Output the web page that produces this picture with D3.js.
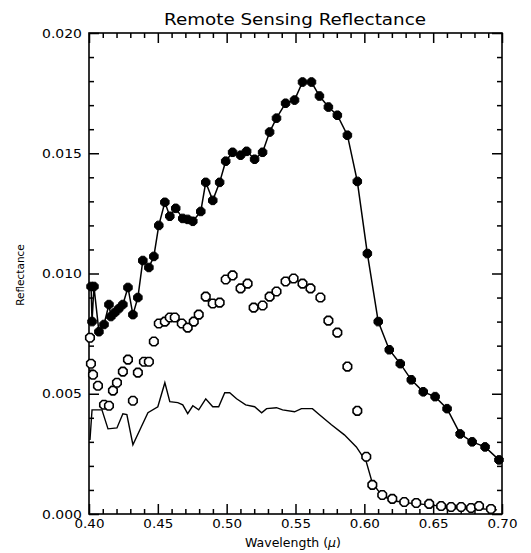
<!DOCTYPE html>
<html>
<head>
<meta charset="utf-8">
<script src="https://cdn.jsdelivr.net/npm/d3@7"></script>
<style>
  html, body { margin: 0; padding: 0; background: #fff; }
  svg { display: block; }
  text { font-family: "DejaVu Sans", "Liberation Sans", sans-serif; fill: #000; }
</style>
</head>
<body>
<svg id="chart" width="531" height="553"></svg>
<script>
// ---- data ----
const titleText = "Remote Sensing Reflectance";
const xTitle = "Wavelength";
const yTitle = "Reflectance";
const xMajorTicks = [0.40, 0.45, 0.50, 0.55, 0.60, 0.65, 0.70];
const yMajorTicks = [0.000, 0.005, 0.010, 0.015, 0.020];

// filled markers + connecting line
const filledWl = [0.4015,0.4022,0.4036,0.4072,0.4109,0.4145,0.4159,0.4188,0.4217,0.4246,0.4283,0.4319,0.4355,0.4391,0.4435,0.4471,0.4507,0.4551,0.4587,0.4630,0.4681,0.4717,0.4754,0.4812,0.4848,0.4899,0.4949,0.4993,0.5043,0.5101,0.5145,0.5203,0.5261,0.5312,0.5362,0.5428,0.5493,0.5551,0.5616,0.5674,0.5739,0.5804,0.5877,0.5949,0.6022,0.6101,0.6181,0.6261,0.6341,0.6428,0.6514,0.6601,0.6696,0.6783,0.6877,0.6978];
const filledRrs = [0.00946,0.00800,0.00946,0.00758,0.00788,0.00871,0.00821,0.00838,0.00854,0.00871,0.00942,0.00829,0.00900,0.01054,0.01025,0.01071,0.01200,0.01296,0.01238,0.01271,0.01229,0.01225,0.01217,0.01258,0.01379,0.01304,0.01379,0.01467,0.01504,0.01492,0.01508,0.01475,0.01504,0.01588,0.01646,0.01708,0.01721,0.01796,0.01796,0.01738,0.01692,0.01658,0.01575,0.01383,0.01083,0.00800,0.00683,0.00625,0.00558,0.00508,0.00488,0.00438,0.00333,0.00300,0.00279,0.00225];

// open markers, no line
const openWl = [0.4007,0.4014,0.4029,0.4065,0.4109,0.4145,0.4174,0.4203,0.4246,0.4283,0.4319,0.4355,0.4399,0.4435,0.4471,0.4507,0.4551,0.4587,0.4623,0.4674,0.4717,0.4761,0.4797,0.4848,0.4899,0.4949,0.4993,0.5043,0.5101,0.5152,0.5196,0.5261,0.5312,0.5362,0.5428,0.5486,0.5551,0.5609,0.5681,0.5739,0.5804,0.5877,0.5949,0.6014,0.6058,0.6130,0.6203,0.6290,0.6377,0.6471,0.6558,0.6630,0.6703,0.6775,0.6833,0.6920];
const openRrs = [0.00733,0.00625,0.00579,0.00533,0.00454,0.00450,0.00513,0.00546,0.00592,0.00642,0.00471,0.00588,0.00633,0.00633,0.00717,0.00792,0.00800,0.00817,0.00817,0.00792,0.00775,0.00800,0.00829,0.00904,0.00875,0.00879,0.00975,0.00992,0.00938,0.00958,0.00858,0.00867,0.00904,0.00925,0.00967,0.00979,0.00958,0.00938,0.00900,0.00804,0.00754,0.00613,0.00429,0.00238,0.00121,0.00079,0.00063,0.00050,0.00046,0.00042,0.00033,0.00029,0.00029,0.00025,0.00033,0.00021];

// plain line, no markers
const lineWl = [0.4007,0.4022,0.4094,0.4138,0.4203,0.4246,0.4275,0.4319,0.4370,0.4428,0.4500,0.4551,0.4587,0.4645,0.4681,0.4717,0.4754,0.4797,0.4848,0.4899,0.4942,0.4986,0.5022,0.5072,0.5138,0.5203,0.5254,0.5290,0.5362,0.5406,0.5493,0.5543,0.5623,0.5674,0.5761,0.5855,0.5942,0.6014,0.6058,0.6130,0.6217,0.6326,0.6471,0.6616,0.6761,0.6964];
const lineRrs = [0.00308,0.00433,0.00433,0.00354,0.00358,0.00417,0.00413,0.00288,0.00350,0.00421,0.00446,0.00546,0.00467,0.00463,0.00454,0.00417,0.00450,0.00433,0.00479,0.00446,0.00446,0.00504,0.00504,0.00479,0.00454,0.00446,0.00421,0.00438,0.00442,0.00433,0.00425,0.00438,0.00438,0.00413,0.00371,0.00329,0.00279,0.00217,0.00129,0.00075,0.00054,0.00046,0.00038,0.00029,0.00025,0.00017];

// ---- layout ----
const svg = d3.select("#chart");
const L = 89, R = 502, T = 33, B = 514;
const x = d3.scaleLinear().domain([0.40, 0.70]).range([L, R]);
const y = d3.scaleLinear().domain([0.0, 0.020]).range([B, T]);

const xMinor = d3.range(0, 31).map(i => 0.40 + i * 0.01).filter(v => !xMajorTicks.some(m => Math.abs(m - v) < 1e-9));
const yMinor = d3.range(0, 21).map(i => i * 0.001).filter(v => !yMajorTicks.some(m => Math.abs(m - v) < 1e-9));

const majLen = 10, minLen = 5;
function styleAxis(g) {
  g.select(".domain").remove();
  g.selectAll(".tick line").attr("stroke", "#000").attr("stroke-width", 1.5);
}

// bottom axis with labels
svg.append("g").attr("transform", `translate(0,${B})`)
  .call(d3.axisBottom(x).tickValues(xMajorTicks).tickSize(-majLen).tickPadding(5).tickFormat(d3.format(".2f")))
  .call(styleAxis)
  .call(g => g.selectAll("text").attr("font-size", 12.5).attr("dy", "0.9em").attr("transform", "translate(0,-2)")
    .attr("textLength", 30).attr("lengthAdjust", "spacingAndGlyphs"));
svg.append("g").attr("transform", `translate(0,${B})`)
  .call(d3.axisBottom(x).tickValues(xMinor).tickSize(-minLen).tickFormat(""))
  .call(styleAxis);
// top axis
svg.append("g").attr("transform", `translate(0,${T})`)
  .call(d3.axisTop(x).tickValues(xMajorTicks).tickSize(-majLen).tickFormat(""))
  .call(styleAxis);
svg.append("g").attr("transform", `translate(0,${T})`)
  .call(d3.axisTop(x).tickValues(xMinor).tickSize(-minLen).tickFormat(""))
  .call(styleAxis);
// left axis
svg.append("g").attr("transform", `translate(${L},0)`)
  .call(d3.axisLeft(y).tickValues(yMajorTicks).tickSize(-majLen).tickPadding(7).tickFormat(d3.format(".3f")))
  .call(styleAxis)
  .call(g => g.selectAll("text").attr("font-size", 12.5).attr("textLength", 40).attr("lengthAdjust", "spacingAndGlyphs"));
svg.append("g").attr("transform", `translate(${L},0)`)
  .call(d3.axisLeft(y).tickValues(yMinor).tickSize(-minLen).tickFormat(""))
  .call(styleAxis);
// right axis
svg.append("g").attr("transform", `translate(${R},0)`)
  .call(d3.axisRight(y).tickValues(yMajorTicks).tickSize(-majLen).tickFormat(""))
  .call(styleAxis);
svg.append("g").attr("transform", `translate(${R},0)`)
  .call(d3.axisRight(y).tickValues(yMinor).tickSize(-minLen).tickFormat(""))
  .call(styleAxis);

// frame
svg.append("rect").attr("x", L).attr("y", T).attr("width", R - L).attr("height", B - T)
  .attr("fill", "none").attr("stroke", "#000").attr("stroke-width", 1.6);

// ---- series ----
const plot = svg.append("g");
const lineGen = d3.line().x(d => x(d[0])).y(d => y(d[1]));

const lineData = lineWl.map((w, i) => [w, lineRrs[i]]);
plot.append("path").datum(lineData).attr("d", lineGen)
  .attr("fill", "none").attr("stroke", "#000").attr("stroke-width", 1.4);

const filledData = filledWl.map((w, i) => [w, filledRrs[i]]);
plot.append("path").datum(filledData).attr("d", lineGen)
  .attr("fill", "none").attr("stroke", "#000").attr("stroke-width", 1.5);

// octagonal marker (IDL-like user symbol)
const octagon = d3.symbol().type({
  draw(ctx, size) {
    const r = Math.sqrt(size / 2.83);
    for (let k = 0; k < 8; k++) {
      const a = Math.PI / 8 + k * Math.PI / 4;
      const px = r * Math.cos(a), py = r * Math.sin(a);
      if (k === 0) ctx.moveTo(px, py); else ctx.lineTo(px, py);
    }
    ctx.closePath();
  }
}).size(60);

plot.selectAll(".filled").data(filledData).join("path")
  .attr("class", "filled")
  .attr("transform", d => `translate(${x(d[0])},${y(d[1])})`)
  .attr("d", octagon).attr("fill", "#000").attr("stroke", "#000").attr("stroke-width", 1);

const openData = openWl.map((w, i) => [w, openRrs[i]]);
plot.selectAll(".open").data(openData).join("path")
  .attr("class", "open")
  .attr("transform", d => `translate(${x(d[0])},${y(d[1])})`)
  .attr("d", octagon).attr("fill", "#fff").attr("stroke", "#000").attr("stroke-width", 1.6);

// ---- titles ----
svg.append("text").attr("x", 295).attr("y", 25).attr("text-anchor", "middle")
  .attr("font-size", 16).attr("textLength", 262).attr("lengthAdjust", "spacingAndGlyphs")
  .text(titleText);

const xt = svg.append("text").attr("x", 293).attr("y", 547).attr("text-anchor", "middle")
  .attr("font-size", 12.5);
xt.append("tspan").text(xTitle + " (");
xt.append("tspan").attr("font-style", "italic").text("μ");
xt.append("tspan").text(")");

svg.append("text").attr("transform", "translate(24,275) rotate(-90)")
  .attr("text-anchor", "middle").attr("font-size", 10.5).text(yTitle);
</script>
</body>
</html>
